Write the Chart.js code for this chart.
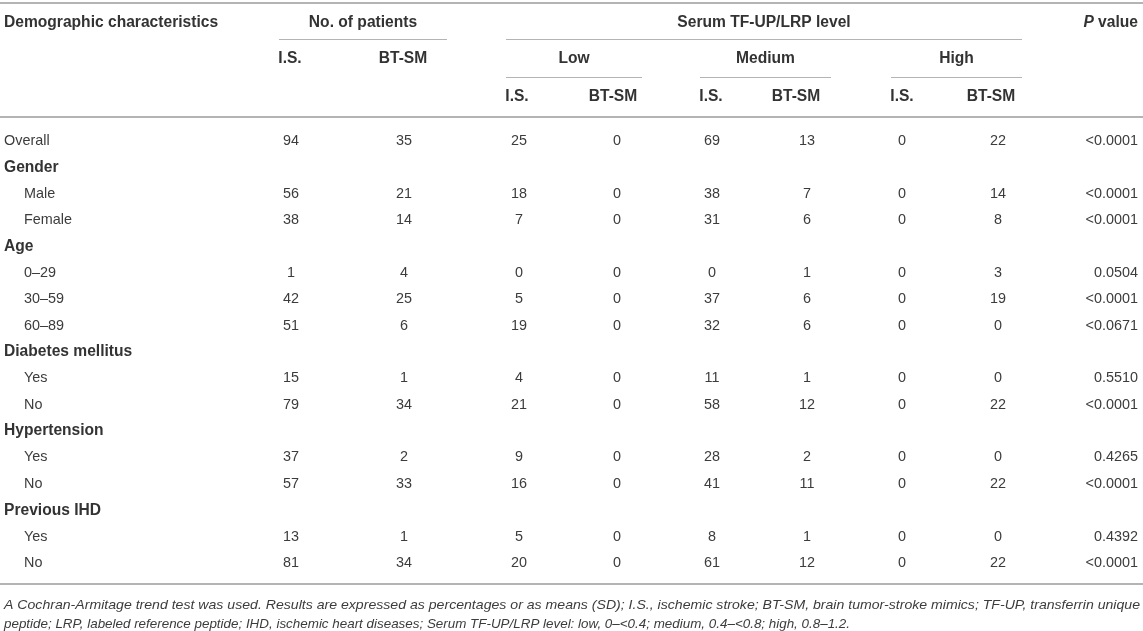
<!DOCTYPE html>
<html>
<head>
<meta charset="utf-8">
<script src="https://cdn.jsdelivr.net/npm/chart.js@4.4.1/dist/chart.umd.min.js"></script>
<style>
  html, body { margin: 0; padding: 0; background: #fff; }
  #wrap { width: 1143px; height: 631px; position: relative; }
</style>
</head>
<body>
<div id="wrap"><canvas id="table"></canvas></div>
<script>
// Satır etiketleri ve grup başlıkları
const rowLabels = ["Overall", "Gender", "Male", "Female", "Age", "0–29", "30–59", "60–89",
  "Diabetes mellitus", "Yes", "No", "Hypertension", "Yes", "No", "Previous IHD", "Yes", "No"];
const groupRows = [false, true, false, false, true, false, false, false,
  true, false, false, true, false, false, true, false, false];

// Hasta sayıları
const patientsIS = [94, null, 56, 38, null, 1, 42, 51, null, 15, 79, null, 37, 57, null, 13, 81];
const patientsBT = [35, null, 21, 14, null, 4, 25, 6, null, 1, 34, null, 2, 33, null, 1, 34];
// Serum TF-UP/LRP düzeyleri
const lowIS = [25, null, 18, 7, null, 0, 5, 19, null, 4, 21, null, 9, 16, null, 5, 20];
const lowBT = [0, null, 0, 0, null, 0, 0, 0, null, 0, 0, null, 0, 0, null, 0, 0];
const medIS = [69, null, 38, 31, null, 0, 37, 32, null, 11, 58, null, 28, 41, null, 8, 61];
const medBT = [13, null, 7, 6, null, 1, 6, 6, null, 1, 12, null, 2, 11, null, 1, 12];
const highIS = [0, null, 0, 0, null, 0, 0, 0, null, 0, 0, null, 0, 0, null, 0, 0];
const highBT = [22, null, 14, 8, null, 3, 19, 0, null, 0, 22, null, 0, 22, null, 0, 22];
const pValues = ["<0.0001", null, "<0.0001", "<0.0001", null, "0.0504", "<0.0001", "<0.0671",
  null, "0.5510", "<0.0001", null, "0.4265", "<0.0001", null, "0.4392", "<0.0001"];

// Başlıklar
const topHeaders = ["Demographic characteristics", "No. of patients", "Serum TF-UP/LRP level", "P value"];
const levelHeaders = ["Low", "Medium", "High"];
const subHeaders = ["I.S.", "BT-SM"];
const footnote = [
  "A Cochran-Armitage trend test was used. Results are expressed as percentages or as means (SD); I.S., ischemic stroke; BT-SM, brain tumor-stroke mimics; TF-UP, transferrin unique",
  "peptide; LRP, labeled reference peptide; IHD, ischemic heart diseases; Serum TF-UP/LRP level: low, 0–<0.4; medium, 0.4–<0.8; high, 0.8–1.2."
];

// Yerleşim (ölçek birimleri = piksel)
const valueCols = [291, 404, 519, 617, 712, 807, 902, 998];
const subHeadCols = [290, 403, 517, 613, 711, 796, 902, 991];
const groupSpans = { patients: [279, 447], serum: [506, 1022], low: [506, 642], med: [700, 831], high: [891, 1022] };
const pRight = 1138;
const firstRowY = 141, rowStep = 26.375;
const rowY = i => firstRowY + i * rowStep;

const FONT = '"Liberation Sans", Arial, sans-serif';
const REG = "400 14.4px " + FONT;
const BOLD = "700 15.6px " + FONT;
const TEXT = "#333";
const BODY = "#3c3c3c";
const RULE = "#b4b4b4";

const valueSeries = [patientsIS, patientsBT, lowIS, lowBT, medIS, medBT, highIS, highBT];

// Her hücre bir veri noktası
function cells(values, x) {
  const out = [];
  values.forEach((v, i) => {
    if (v !== null) out.push({ x: x, y: rowY(i), text: String(v) });
  });
  return out;
}

const datasets = valueSeries.map((s, c) => ({
  label: "col" + c, data: cells(s, valueCols[c]), align: "center", font: REG, color: BODY
}));
datasets.push({ label: "p", data: cells(pValues, pRight), align: "right", font: REG, color: BODY });
datasets.push({
  label: "rows",
  data: rowLabels.map((t, i) => ({ x: groupRows[i] || i === 0 ? 4 : 24, y: rowY(i), text: t, bold: groupRows[i] })),
  align: "left", font: REG, color: BODY
});

// Başlık hücreleri
const headCells = [
  { x: 4, y: 23, text: topHeaders[0], align: "left" },
  { x: (groupSpans.patients[0] + groupSpans.patients[1]) / 2, y: 23, text: topHeaders[1], align: "center" },
  { x: (groupSpans.serum[0] + groupSpans.serum[1]) / 2, y: 23, text: topHeaders[2], align: "center" },
  { x: pRight, y: 23, text: topHeaders[3], align: "right" },
  { x: (groupSpans.low[0] + groupSpans.low[1]) / 2, y: 59, text: levelHeaders[0], align: "center" },
  { x: (groupSpans.med[0] + groupSpans.med[1]) / 2, y: 59, text: levelHeaders[1], align: "center" },
  { x: (groupSpans.high[0] + groupSpans.high[1]) / 2, y: 59, text: levelHeaders[2], align: "center" },
];
subHeadCols.forEach((x, c) => {
  headCells.push({ x: x, y: c < 2 ? 59 : 97, text: subHeaders[c % 2], align: "center" });
});
datasets.push({ label: "head", data: headCells, align: "center", font: BOLD, color: TEXT });

const rules = [
  { y: 3, x0: 0, x1: 1143, w: 2 },
  { y: 39, x0: groupSpans.patients[0], x1: groupSpans.patients[1], w: 1 },
  { y: 39, x0: groupSpans.serum[0], x1: groupSpans.serum[1], w: 1 },
  { y: 77, x0: groupSpans.low[0], x1: groupSpans.low[1], w: 1 },
  { y: 77, x0: groupSpans.med[0], x1: groupSpans.med[1], w: 1 },
  { y: 77, x0: groupSpans.high[0], x1: groupSpans.high[1], w: 1 },
  { y: 117, x0: 0, x1: 1143, w: 2 },
  { y: 584, x0: 0, x1: 1143, w: 2 },
];

const tablePlugin = {
  id: "tableText",
  afterDatasetsDraw(chart) {
    const { ctx, scales: { x, y } } = chart;
    ctx.save();
    // Çizgiler
    ctx.strokeStyle = RULE;
    rules.forEach(r => {
      const py = Math.round(y.getPixelForValue(r.y)) + (r.w % 2 ? 0.5 : 0);
      ctx.lineWidth = r.w;
      ctx.beginPath();
      ctx.moveTo(x.getPixelForValue(r.x0), py);
      ctx.lineTo(x.getPixelForValue(r.x1), py);
      ctx.stroke();
    });
    // Hücre metinleri
    ctx.textBaseline = "middle";
    chart.data.datasets.forEach((ds, di) => {
      const meta = chart.getDatasetMeta(di);
      meta.data.forEach((pt, i) => {
        const cell = ds.data[i];
        ctx.fillStyle = cell.bold ? TEXT : ds.color;
        ctx.font = cell.bold ? BOLD : ds.font;
        ctx.textAlign = cell.align || ds.align;
        if (cell.text === "P value") {
          // P italik, "value" kalın
          ctx.textAlign = "left";
          ctx.font = "italic " + BOLD;
          const w1 = ctx.measureText("P ").width;
          ctx.font = BOLD;
          const w2 = ctx.measureText("value").width;
          const left = pt.x - w1 - w2;
          ctx.font = "italic " + BOLD;
          ctx.fillText("P", left, pt.y);
          ctx.font = BOLD;
          ctx.fillText("value", left + w1, pt.y);
          return;
        }
        ctx.fillText(cell.text, pt.x, pt.y);
      });
    });
    // Dipnot
    ctx.fillStyle = BODY;
    ctx.font = "italic 400 13px " + FONT;
    ctx.textAlign = "left";
    const targets = [1136, 846];
    [605, 624].forEach((fy, k) => {
      const w = ctx.measureText(footnote[k]).width;
      ctx.save();
      ctx.translate(x.getPixelForValue(4), y.getPixelForValue(fy));
      ctx.scale(targets[k] / w, 1);
      ctx.fillText(footnote[k], 0, 0);
      ctx.restore();
    });
    ctx.restore();
  }
};

new Chart(document.getElementById("table"), {
  type: "scatter",
  data: { datasets: datasets.map(d => Object.assign({ pointRadius: 0, pointHoverRadius: 0 }, d)) },
  options: {
    animation: false,
    responsive: true,
    maintainAspectRatio: false,
    events: [],
    layout: { padding: 0 },
    scales: {
      x: { type: "linear", min: 0, max: 1143, display: false },
      y: { type: "linear", min: 0, max: 631, reverse: true, display: false }
    },
    plugins: { legend: { display: false }, tooltip: { enabled: false } }
  },
  plugins: [tablePlugin]
});
</script>
</body>
</html>
